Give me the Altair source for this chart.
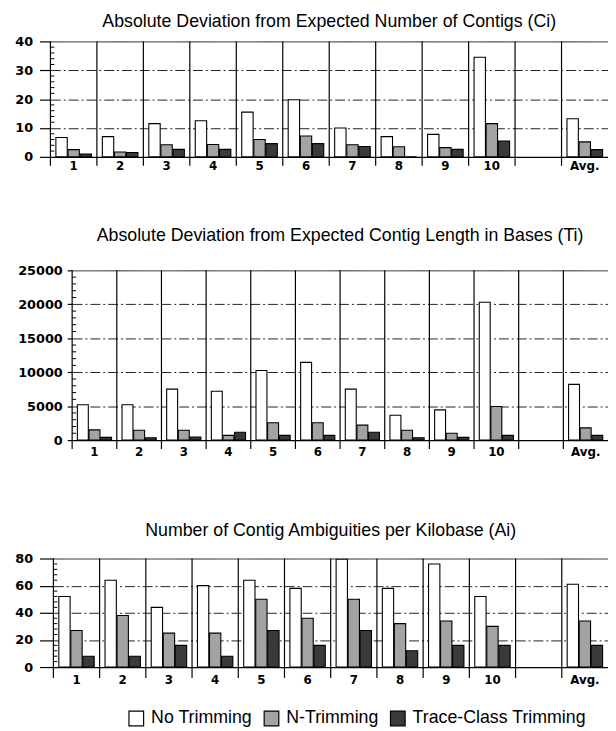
import altair as alt
import pandas as pd

categories = ["1", "2", "3", "4", "5", "6", "7", "8", "9", "10", " ", "Avg."]
groups = ["1", "2", "3", "4", "5", "6", "7", "8", "9", "10", "Avg."]
series = ["No Trimming", "N-Trimming", "Trace-Class Trimming"]

# Panel 1: Absolute deviation from expected number of contigs
contigs_none = [6.7, 7, 11.5, 12.5, 15.5, 19.8, 10, 7, 7.8, 34.5, 13.2]
contigs_n = [2.5, 1.7, 4.2, 4.3, 6, 7.2, 4.2, 3.5, 3.2, 11.5, 5.2]
contigs_tc = [1, 1.5, 2.6, 2.6, 4.6, 4.6, 3.6, 0, 2.6, 5.5, 2.5]

# Panel 2: Absolute deviation from expected contig length in bases
length_none = [5200, 5200, 7500, 7200, 10250, 11450, 7500, 3650, 4450, 20300, 8200]
length_n = [1500, 1450, 1450, 700, 2550, 2550, 2200, 1450, 1000, 4950, 1800]
length_tc = [400, 350, 450, 1150, 700, 700, 1150, 350, 400, 700, 700]

# Panel 3: Number of contig ambiguities per kilobase
ambig_none = [52, 64, 44, 60, 64, 58, 79.5, 58, 76, 52, 61]
ambig_n = [27, 38, 25, 25, 50, 36, 50, 32, 34, 30, 34]
ambig_tc = [8, 8, 16, 8, 27, 16, 27, 12, 16, 16, 16]

FILLS = ["#ffffff", "#a3a3a3", "#3a3a3a"]
LABEL_FONT = "DejaVu Sans"
TITLE_FONT = "Liberation Sans"


def long_df(a, b, c):
    rows = []
    for s, vals in zip(series, [a, b, c]):
        for g, v in zip(groups, vals):
            rows.append({"cat": g, "series": s, "value": v})
    return pd.DataFrame(rows)


def panel(a, b, c, title, ymax, major, minor, W, H, tick, lpad, toff, xpad, xtick):
    df = long_df(a, b, c)
    xscale = alt.Scale(domain=categories, paddingInner=0, paddingOuter=0)
    yscale = alt.Scale(domain=[0, ymax], nice=False, zero=True)
    majors = list(range(0, ymax + 1, major))
    minors = [v for v in range(0, ymax + 1, minor) if v % major]

    bars = alt.Chart(df).mark_bar(stroke="black", strokeWidth=1.1, opacity=1).encode(
        x=alt.X("cat:N", scale=xscale, sort=categories,
                axis=alt.Axis(title=None, labelAngle=0, ticks=False, tickSize=0,
                              domain=True, domainColor="black", domainWidth=1.2,
                              grid=False, labelFont=LABEL_FONT, labelFontSize=12,
                              labelFontWeight="bold", labelColor="black",
                              labelPadding=xpad)),
        xOffset=alt.XOffset("series:N", sort=series,
                            scale=alt.Scale(domain=series, paddingInner=0.06,
                                            paddingOuter=0.45)),
        y=alt.Y("value:Q", scale=yscale,
                axis=alt.Axis(title=None, values=majors, tickCount=len(majors),
                              format="d", labelOverlap=False, grid=True,
                              gridColor="#222222", gridWidth=1,
                              gridDash={"condition": {"test": f"datum.value === {ymax}",
                                                      "value": [1, 0]},
                                        "value": [10, 3, 2, 3]},
                              gridOpacity={"condition": {"test": "datum.value === 0",
                                                         "value": 0},
                                           "value": 1},
                              domain=False, ticks=True, tickSize=tick,
                              tickColor="black", tickWidth=1.2,
                              labelPadding=lpad, labelFont=LABEL_FONT,
                              labelFontSize=13, labelFontWeight="bold",
                              labelColor="black")),
        color=alt.Color("series:N", sort=series,
                        scale=alt.Scale(domain=series, range=FILLS),
                        legend=alt.Legend(title=None, orient="none",
                                          legendX=121, legendY=677,
                                          direction="horizontal",
                                          symbolType="square", symbolSize=220,
                                          symbolStrokeColor="black",
                                          symbolStrokeWidth=1.2,
                                          symbolOpacity=1,
                                          labelFont=TITLE_FONT, labelFontSize=18,
                                          labelLimit=0,
                                          labelColor="black", columnPadding=9,
                                          labelOffset=6)),
    )

    vr = alt.Chart(pd.DataFrame({"cat": categories})).mark_rule(
        color="black", strokeWidth=1.2).encode(
        x=alt.X("cat:N", scale=xscale, sort=categories, bandPosition=0),
        y=alt.value(0), y2=alt.value(H + xtick))

    mt = alt.Chart(pd.DataFrame({"value": minors})).mark_rule(
        color="black", strokeWidth=1).encode(
        y=alt.Y("value:Q", scale=yscale), x=alt.value(0), x2=alt.value(4))

    return alt.layer(bars, vr, mt).properties(
        width=W, height=H,
        title=alt.TitleParams(title, font=TITLE_FONT, fontSize=18,
                              fontWeight="normal", color="black",
                              offset=toff, anchor="middle"))


def spacer(w, h):
    return alt.Chart(pd.DataFrame({"s": [0]})).mark_point(opacity=0).encode(
        x=alt.X("s:Q", axis=None), y=alt.Y("s:Q", axis=None)
    ).properties(width=w, height=h)


p1 = panel(contigs_none, contigs_n, contigs_tc,
           "Absolute Deviation from Expected Number of Contigs (Ci)",
           40, 10, 2, 565, 117, 11, 7, 5, 4, 9)
p2 = panel(length_none, length_n, length_tc,
           "Absolute Deviation from Expected Contig Length in Bases (Ti)",
           25000, 5000, 1000, 543, 172, 5, 5, 20, 7, 9)
p3 = panel(ambig_none, ambig_n, ambig_tc,
           "Number of Contig Ambiguities per Kilobase (Ai)",
           80, 20, 4, 562, 110, 14, 7, 13, 8, 11)

row1 = alt.hconcat(spacer(6, 1), p1, spacing=0)
row2 = alt.hconcat(spacer(9, 199), p2, spacing=0)
row3 = alt.hconcat(spacer(6, 1), p3, spacing=0)

chart = alt.vconcat(row1, row2, row3, spacing=56).resolve_scale(
    xOffset="independent"
).properties(
    padding={"left": 0, "top": 0, "right": 0, "bottom": 2}
).configure_view(stroke=None)

chart.save("out.html", embed_options={"renderer": "svg", "actions": False})
